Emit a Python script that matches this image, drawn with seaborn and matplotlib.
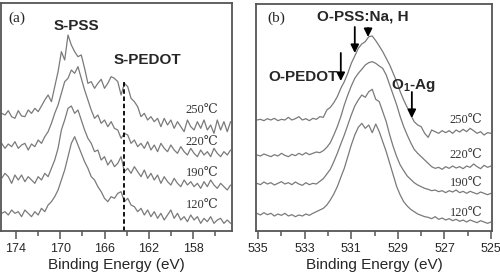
import numpy as np
import pandas as pd
import matplotlib
matplotlib.use("Agg")
import matplotlib.pyplot as plt
import seaborn as sns

# S 2p region (panel a), binding energy in eV, intensity in arbitrary units
s2p_energy = [175.3, 175.0, 174.7, 174.4, 174.1, 173.8, 173.5, 173.2, 172.9, 172.6,
              172.3, 172.0, 171.7, 171.4, 171.1, 170.8, 170.5, 170.2, 169.9, 169.6,
              169.3, 169.0, 168.7, 168.4, 168.1, 167.8, 167.5, 167.2, 166.9, 166.6,
              166.3, 166.0, 165.7, 165.4, 165.1, 164.8, 164.5, 164.2, 163.9, 163.6,
              163.3, 163.0, 162.7, 162.4, 162.1, 161.8, 161.5, 161.2, 160.9, 160.6,
              160.3, 160.0, 159.7, 159.4, 159.1, 158.8, 158.5, 158.2, 157.9, 157.6,
              157.3, 157.0, 156.7, 156.4, 156.1, 155.8, 155.5, 155.2, 154.9, 154.6]
s2p_250 = [720, 715, 728, 710, 705, 728, 712, 710, 730, 720,
           735, 725, 742, 760, 775, 755, 800, 845, 905, 880,
           955, 925, 905, 890, 895, 855, 810, 815, 795, 810,
           822, 795, 810, 830, 825, 815, 775, 810, 800, 765,
           755, 740, 710, 720, 700, 710, 695, 705, 680, 705,
           685, 700, 675, 695, 680, 665, 700, 680, 670, 695,
           675, 700, 670, 685, 660, 700, 670, 695, 665, 695]
s2p_220 = [630, 615, 628, 620, 635, 615, 625, 630, 610, 628,
           620, 640, 630, 650, 665, 690, 720, 745, 780, 815,
           825, 850, 840, 860, 825, 790, 760, 730, 705, 715,
           690, 700, 680, 695, 675, 670, 645, 660, 655, 630,
           640, 620, 630, 615, 635, 610, 625, 605, 630, 615,
           605, 625, 610, 600, 620, 605, 595, 615, 600, 590,
           610, 595, 605, 590, 615, 600, 590, 605, 595, 610]
s2p_190 = [525, 540, 530, 510, 535, 520, 535, 515, 530, 520,
           510, 530, 520, 540, 530, 555, 580, 615, 670, 700,
           735, 742, 720, 730, 700, 670, 645, 630, 605, 610,
           580, 590, 565, 580, 560, 570, 590, 545, 555, 540,
           560, 545, 530, 550, 525, 540, 520, 535, 510, 530,
           515, 505, 525, 510, 500, 520, 505, 515, 500, 510,
           495, 515, 500, 520, 505, 495, 510, 500, 490, 505]
s2p_120 = [420, 425, 415, 430, 420, 425, 410, 430, 420, 410,
           425, 415, 435, 425, 445, 455, 470, 490, 520, 550,
           590, 630, 650, 625, 600, 575, 555, 530, 520, 500,
           485, 465, 455, 470, 465, 480, 485, 455, 465, 445,
           440, 425, 435, 415, 430, 410, 425, 405, 420, 400,
           415, 430, 405, 420, 400, 410, 395, 415, 400, 410,
           390, 405, 395, 410, 390, 400, 405, 390, 400, 390]

# O 1s region (panel b)
o1s_energy = [535.05, 534.90, 534.75, 534.60, 534.45, 534.30, 534.15, 534.00, 533.85, 533.70,
              533.55, 533.40, 533.25, 533.10, 532.95, 532.80, 532.65, 532.50, 532.35, 532.20,
              532.05, 531.90, 531.75, 531.60, 531.45, 531.30, 531.15, 531.00, 530.85, 530.70,
              530.55, 530.40, 530.25, 530.10, 529.95, 529.80, 529.65, 529.50, 529.35, 529.20,
              529.05, 528.90, 528.75, 528.60, 528.45, 528.30, 528.15, 528.00, 527.85, 527.70,
              527.55, 527.40, 527.25, 527.10, 526.95, 526.80, 526.65, 526.50, 526.35, 526.20,
              526.05, 525.90, 525.75, 525.60, 525.45, 525.30, 525.15, 525.00]
o1s_250 = [700, 702, 698, 704, 700, 705, 698, 702, 700, 708,
           700, 704, 710, 700, 704, 698, 705, 702, 710, 708,
           730, 738, 752, 770, 795, 815, 840, 870, 892, 915,
           928, 935, 950, 952, 938, 922, 905, 885, 865, 840,
           815, 785, 760, 738, 715, 695, 685, 680, 660, 648,
           670, 665, 660, 668, 662, 668, 660, 670, 664, 672,
           665, 675, 668, 660, 665, 655, 662, 660]
o1s_220 = [595, 592, 598, 594, 590, 596, 592, 600, 594, 590,
           597, 593, 600, 595, 602, 596, 600, 604, 602, 608,
           618, 632, 655, 680, 710, 745, 775, 802, 825, 840,
           852, 865, 872, 875, 870, 862, 855, 835, 805, 775,
           745, 710, 680, 655, 632, 612, 600, 590, 580, 570,
           560, 555, 558, 552, 560, 555, 562, 556, 560, 554,
           562, 558, 568, 560, 554, 564, 558, 562]
o1s_190 = [510, 506, 514, 508, 512, 505, 510, 515, 508, 512,
           506, 514, 508, 504, 512, 506, 510, 508, 516, 524,
           538, 552, 575, 600, 628, 655, 685, 715, 742, 760,
           775, 768, 785, 792, 762, 755, 725, 695, 655, 620,
           590, 565, 548, 532, 522, 512, 505, 500, 495, 492,
           488, 490, 485, 488, 482, 488, 484, 490, 482, 486,
           480, 486, 482, 478, 484, 480, 476, 480]
o1s_120 = [420, 415, 422, 416, 420, 412, 418, 414, 420, 412,
           416, 410, 415, 412, 418, 414, 420, 425, 430, 435,
           445, 460, 478, 500, 528, 555, 590, 625, 655, 678,
           690, 675, 685, 662, 688, 665, 635, 605, 570, 535,
           500, 475, 455, 442, 432, 425, 418, 414, 410, 408,
           404, 410, 402, 406, 400, 404, 398, 402, 396, 400,
           394, 400, 396, 392, 398, 394, 390, 394]

temps = ["250℃", "220℃", "190℃", "120℃"]

# tick positions
s2p_major = [174, 170, 166, 162, 158]
s2p_minor = [172, 168, 164, 160, 156]
o1s_major = [535, 533, 531, 529, 527, 525]
o1s_minor = [534, 532, 530, 528, 526]

# marker positions
s_pedot_energy = 164.2
s_pedot_top = 820
o_arrow_energy = [531.45, 530.85, 530.28, 528.40]
o_arrow_tail = [901, 979, 976, 784]
o_arrow_tip = [817, 901, 949, 706]

sns.set_style("ticks")
plt.rcParams["font.family"] = ["Liberation Sans", "DejaVu Sans"]
plt.rcParams["mathtext.fontset"] = "custom"
plt.rcParams["mathtext.rm"] = "Liberation Sans"
plt.rcParams["mathtext.bf"] = "Liberation Sans:bold"

line_col = "#7a7a7a"
frame_col = "#555555"
serif = ["Liberation Serif", "DejaVu Serif"]


def long_form(energy, curves):
    frames = []
    for t, vals in zip(temps, curves):
        frames.append(pd.DataFrame({"energy": energy, "intensity": vals, "temp": t}))
    return pd.concat(frames, ignore_index=True)


df_s = long_form(s2p_energy, [s2p_250, s2p_220, s2p_190, s2p_120])
df_o = long_form(o1s_energy, [o1s_250, o1s_220, o1s_190, o1s_120])

fig = plt.figure(figsize=(5, 2.8), dpi=100)
ax1 = fig.add_axes([0.002, 0.175, 0.462, 0.8143])
ax2 = fig.add_axes([0.512, 0.175, 0.472, 0.8107])

for ax, df in ((ax1, df_s), (ax2, df_o)):
    sns.lineplot(data=df, x="energy", y="intensity", hue="temp",
                 palette=[line_col] * 4, legend=False, errorbar=None,
                 lw=0.9, ax=ax)
    ax.set_ylabel("")
    ax.set_yticks([])
    ax.set_xlabel("Binding Energy (eV)", fontsize=11, labelpad=2)
    for sp in ax.spines.values():
        sp.set_visible(True)
        sp.set_color(frame_col)
        sp.set_linewidth(1.3)

ax1.set_xticks(s2p_major)
ax1.set_xticks(s2p_minor, minor=True)
ax1.set_xlim(175.36, 154.47)
ax1.set_ylim(367, 1051)

ax2.set_xticks(o1s_major)
ax2.set_xticks(o1s_minor, minor=True)
ax2.set_xlim(535.09, 524.96)
ax2.set_ylim(367, 1048)

for ax in (ax1, ax2):
    ax.tick_params(axis="x", which="major", direction="out", length=6,
                   width=1.1, color=frame_col, labelsize=9, pad=3)
    ax.tick_params(axis="x", which="minor", direction="out", length=3.5,
                   width=1.1, color=frame_col)

# panel a annotations
ax1.vlines(s_pedot_energy, 367, s_pedot_top, colors="black",
           linestyles=(0, (2.5, 1.5)), lw=1.3)
ax1.text(0.030, 0.934, "(a)", transform=ax1.transAxes, ha="left", va="center",
         fontsize=11, family=serif)
ax1.text(0.325, 0.899, "S-PSS", transform=ax1.transAxes, ha="center", va="center",
         fontsize=11, fontweight="bold")
ax1.text(0.632, 0.75, "S-PEDOT", transform=ax1.transAxes, ha="center", va="center",
         fontsize=11, fontweight="bold")
for t, yy in zip(temps, [0.531, 0.390, 0.254, 0.114]):
    ax1.text(0.87, yy, t, transform=ax1.transAxes, ha="center", va="center",
             fontsize=9, family=serif, color="#333333")

# panel b annotations
ax2.text(0.085, 0.938, "(b)", transform=ax2.transAxes, ha="center", va="center",
         fontsize=11, family=serif)
ax2.text(0.453, 0.943, "O-PSS:Na, H", transform=ax2.transAxes, ha="center",
         va="center", fontsize=11, fontweight="bold")
ax2.text(0.199, 0.678, "O-PEDOT", transform=ax2.transAxes, ha="center",
         va="center", fontsize=11, fontweight="bold")
ax2.text(0.665, 0.643, r"O$_{\mathbf{1}}$-Ag", transform=ax2.transAxes,
         ha="center", va="center", fontsize=11, fontweight="bold")
for e, tail, tip in zip(o_arrow_energy, o_arrow_tail, o_arrow_tip):
    ax2.annotate("", xy=(e, tip), xytext=(e, tail),
                 arrowprops=dict(arrowstyle="-|>", color="black", lw=1.3,
                                 mutation_scale=12, shrinkA=0, shrinkB=0))
for t, yy in zip(temps, [0.489, 0.335, 0.211, 0.079]):
    ax2.text(0.89, yy, t, transform=ax2.transAxes, ha="center", va="center",
             fontsize=9, family=serif, color="#333333")

fig.savefig("out.png", dpi=100)
